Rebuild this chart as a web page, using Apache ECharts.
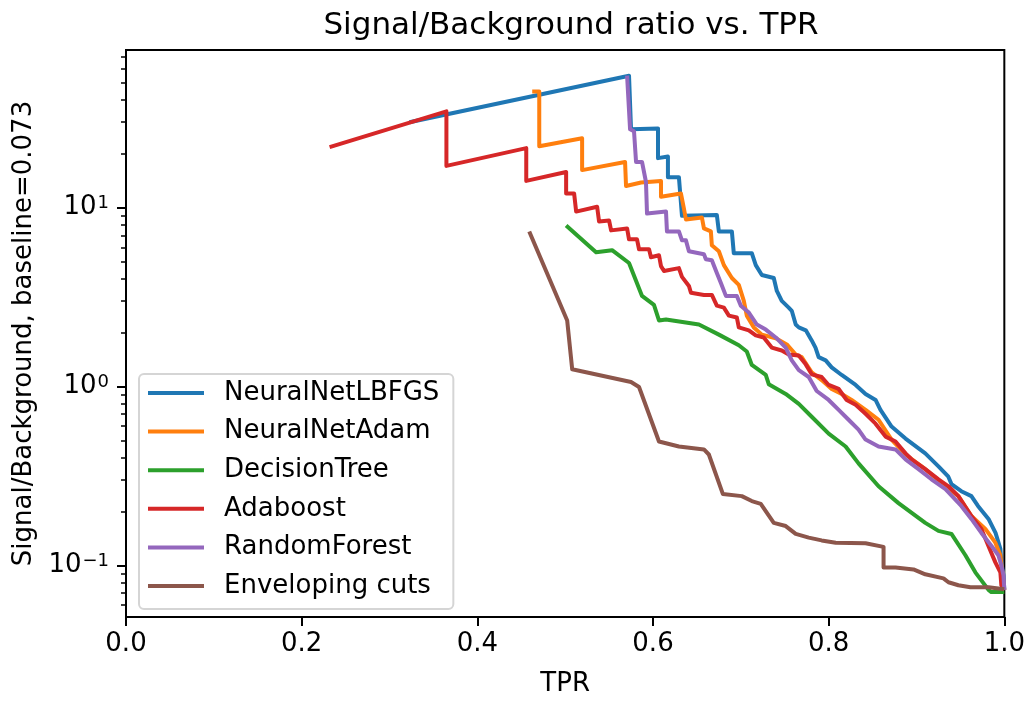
<!DOCTYPE html>
<html>
<head>
<meta charset="utf-8">
<script src="https://cdn.jsdelivr.net/npm/echarts@6/dist/echarts.min.js"></script>
<style>
html,body{margin:0;padding:0;background:#fff;}
#chart{width:1028px;height:702px;}
</style>
</head>
<body>
<div id="chart"></div>
<script>
// ---- data: [TPR, Signal/Background] ----
const seriesNames = ['NeuralNetLBFGS', 'NeuralNetAdam', 'DecisionTree', 'Adaboost', 'RandomForest', 'Enveloping cuts'];
const seriesColors = ['#1f77b4', '#ff7f0e', '#2ca02c', '#d62728', '#9467bd', '#8c564b'];

const neuralNetLBFGS = [
  [0.3227,30.0],[0.5727,54.6],[0.5750,27.4],[0.6057,27.7],[0.6057,18.9],[0.6170,19.3],
  [0.6170,14.8],[0.6295,14.8],[0.6330,9.0],[0.6727,9.1],[0.6750,7.36],[0.6898,7.36],
  [0.6920,5.56],[0.7125,5.56],[0.7170,4.77],[0.7239,4.20],[0.7375,4.04],[0.7410,3.42],
  [0.7466,3.01],[0.7545,2.76],[0.7580,2.65],[0.7625,2.22],[0.7660,2.14],[0.7740,2.06],
  [0.7807,1.81],[0.7850,1.65],[0.7886,1.46],[0.7966,1.40],[0.8034,1.28],[0.8148,1.16],
  [0.8307,1.02],[0.8420,0.909],[0.8534,0.841],[0.8590,0.741],[0.8716,0.597],[0.8875,0.512],
  [0.9100,0.423],[0.9250,0.358],[0.9360,0.315],[0.9398,0.285],[0.9510,0.260],[0.9625,0.244],
  [0.9700,0.215],[0.9820,0.182],[0.9900,0.152],[0.9955,0.124],[0.9966,0.104],[0.9990,0.088],
  [1.0,0.073]
];
const neuralNetAdam = [
  [0.4625,44.5],[0.4705,44.5],[0.4705,22.0],[0.5193,24.4],[0.5193,16.2],[0.5682,18.0],
  [0.5693,13.2],[0.5864,13.8],[0.6091,14.1],[0.6091,11.5],[0.6318,12.0],[0.6352,9.87],
  [0.6375,8.58],[0.6557,8.80],[0.6580,7.65],[0.6659,7.36],[0.6670,6.16],[0.6750,5.70],
  [0.6807,4.77],[0.6898,4.04],[0.6977,3.70],[0.7034,3.01],[0.7068,2.49],[0.7148,2.14],
  [0.7239,1.95],[0.7398,1.86],[0.7523,1.72],[0.7625,1.51],[0.7693,1.46],[0.7807,1.20],
  [0.7920,1.086],[0.8034,0.969],[0.8148,0.909],[0.8261,0.841],[0.8420,0.741],[0.8568,0.652],
  [0.8716,0.505],[0.8875,0.417],[0.9100,0.345],[0.9330,0.277],[0.9477,0.244],[0.9625,0.189],
  [0.9784,0.160],[0.9898,0.134],[0.9955,0.114],[0.9977,0.0915],[1.0,0.073]
];
const decisionTree = [
  [0.5011,7.95],[0.5352,5.63],[0.5534,5.78],[0.5727,4.90],[0.5875,3.21],[0.6011,2.86],
  [0.6068,2.34],[0.6148,2.37],[0.6523,2.22],[0.6750,1.95],[0.6977,1.70],[0.7068,1.57],
  [0.7125,1.32],[0.7284,1.16],[0.7318,1.03],[0.7511,0.909],[0.7660,0.800],[0.7807,0.678],
  [0.8000,0.545],[0.8193,0.462],[0.8340,0.372],[0.8568,0.277],[0.8795,0.223],[0.9100,0.173],
  [0.9250,0.156],[0.9398,0.150],[0.9557,0.114],[0.9670,0.0915],[0.9820,0.073],[0.9852,0.071],
  [1.0,0.071]
];
const adaboost = [
  [0.2318,21.8],[0.3648,34.5],[0.3648,17.1],[0.4557,21.5],[0.4557,14.1],[0.5011,15.8],
  [0.5011,12.0],[0.5102,12.0],[0.5125,9.50],[0.5364,10.1],[0.5386,8.36],[0.5500,8.47],
  [0.5523,7.46],[0.5705,7.65],[0.5727,6.65],[0.5818,6.65],[0.5841,5.85],[0.5955,5.85],
  [0.5977,5.28],[0.6068,5.42],[0.6091,4.71],[0.6125,4.42],[0.6295,4.59],[0.6330,4.10],
  [0.6409,3.65],[0.6432,3.34],[0.6580,3.25],[0.6670,3.25],[0.6727,2.83],[0.6807,2.76],
  [0.6864,2.49],[0.6955,2.43],[0.6977,2.14],[0.7091,2.06],[0.7170,1.93],[0.7261,1.88],
  [0.7352,1.65],[0.7466,1.59],[0.7545,1.51],[0.7659,1.49],[0.7739,1.33],[0.7807,1.17],
  [0.7920,1.13],[0.8000,1.02],[0.8114,0.969],[0.8205,0.841],[0.8307,0.790],[0.8420,0.704],
  [0.8534,0.620],[0.8648,0.525],[0.8761,0.493],[0.8875,0.423],[0.8943,0.392],[0.9100,0.345],
  [0.9250,0.303],[0.9364,0.277],[0.9477,0.244],[0.9625,0.189],[0.9739,0.160],[0.9818,0.129],
  [0.9898,0.104],[0.9955,0.0915],[0.9966,0.0775],[1.0,0.073]
];
const randomForest = [
  [0.5705,54.6],[0.5739,27.4],[0.5784,26.7],[0.5807,18.0],[0.5875,18.0],[0.5920,13.9],
  [0.5932,9.26],[0.6148,9.50],[0.6159,7.36],[0.6295,7.36],[0.6330,6.56],[0.6375,6.56],
  [0.6409,5.70],[0.6580,5.49],[0.6602,5.15],[0.6670,5.08],[0.6727,4.31],[0.6773,3.79],
  [0.6830,3.21],[0.6955,3.21],[0.7000,2.83],[0.7091,2.59],[0.7182,2.22],[0.7284,2.08],
  [0.7398,1.88],[0.7511,1.65],[0.7580,1.40],[0.7660,1.234],[0.7773,1.13],[0.7864,0.944],
  [0.8000,0.841],[0.8114,0.741],[0.8227,0.652],[0.8340,0.574],[0.8420,0.505],[0.8568,0.462],
  [0.8761,0.445],[0.8875,0.392],[0.9023,0.345],[0.9170,0.303],[0.9330,0.267],[0.9510,0.215],
  [0.9625,0.182],[0.9739,0.152],[0.9852,0.129],[0.9932,0.114],[0.9966,0.100],[0.9990,0.088],
  [1.0,0.073]
];
const envelopingCuts = [
  [0.4591,7.36],[0.5023,2.34],[0.5080,1.25],[0.5750,1.06],[0.5841,0.994],[0.6068,0.493],
  [0.6295,0.462],[0.6580,0.445],[0.6636,0.417],[0.6795,0.251],[0.7011,0.244],[0.7125,0.229],
  [0.7227,0.221],[0.7375,0.173],[0.7511,0.166],[0.7625,0.150],[0.7773,0.143],[0.7920,0.138],
  [0.8080,0.134],[0.8420,0.133],[0.8625,0.127],[0.8625,0.0975],[0.8761,0.0975],[0.8966,0.095],
  [0.9100,0.0892],[0.9307,0.0847],[0.9364,0.0805],[0.9477,0.0775],[0.9614,0.0755],[0.9820,0.0755],
  [1.0,0.0736]
];
const allData = [neuralNetLBFGS, neuralNetAdam, decisionTree, adaboost, randomForest, envelopingCuts];

const xTicks = [0, 0.2, 0.4, 0.6, 0.8, 1.0];
const yMajorTicks = [0.1, 1, 10];
const yMinorTicks = [0.06,0.07,0.08,0.09,0.2,0.3,0.4,0.5,0.6,0.7,0.8,0.9,2,3,4,5,6,7,8,9,20,30,40,50,60,70];
const yMin = 0.0515, yMax = 76;

const FONT = 'DejaVu Sans';
const chart = echarts.init(document.getElementById('chart'), null, {renderer: 'canvas'});

const option = {
  animation: false,
  backgroundColor: '#ffffff',
  title: {
    text: 'Signal/Background ratio vs. TPR',
    left: 566, top: 5, textAlign: 'center',
    textStyle: {fontFamily: FONT, fontSize: 31, fontWeight: 'normal', color: '#000'}
  },
  grid: {left: 126, right: 22, top: 50, bottom: 80, show: true, borderColor: '#000', borderWidth: 2, backgroundColor: 'transparent'},
  legend: {
    orient: 'vertical', left: 139, top: 374,
    data: seriesNames,
    icon: 'rect',
    itemWidth: 56, itemHeight: 4, itemGap: 12.6,
    padding: [6, 14, 10, 9],
    backgroundColor: '#fff', borderColor: '#d5d5d5', borderWidth: 2, borderRadius: 5,
    textStyle: {fontFamily: FONT, fontSize: 26, color: '#000', lineHeight: 26, padding: [0, 0, 0, 15]}
  },
  xAxis: {
    type: 'value', min: 0, max: 1, interval: 0.2,
    name: 'TPR', nameLocation: 'middle', nameGap: 54,
    nameTextStyle: {fontFamily: FONT, fontSize: 26, color: '#000'},
    axisLine: {show: true, lineStyle: {color: '#000', width: 2}},
    axisTick: {show: true, inside: false, length: 9, lineStyle: {color: '#000', width: 2}},
    axisLabel: {fontFamily: FONT, fontSize: 26, color: '#000', margin: 14,
      formatter: v => (Math.round(v * 10) / 10).toFixed(1)},
    splitLine: {show: false}
  },
  yAxis: [
    {
      type: 'log', min: yMin, max: yMax, position: 'left',
      name: 'Signal/Background, baseline=0.073', nameLocation: 'middle', nameGap: 88, nameRotate: 90,
      nameTextStyle: {fontFamily: FONT, fontSize: 26, color: '#000'},
      axisLine: {show: true, lineStyle: {color: '#000', width: 2}},
      axisTick: {show: true, inside: false, length: 9, lineStyle: {color: '#000', width: 2}, customValues: yMajorTicks},
      axisLabel: {
        customValues: yMajorTicks, margin: 17, color: '#000',
        formatter: v => {
          const n = Math.round(Math.log10(v));
          return '{b|10}{s|' + (n < 0 ? '\u2212' + (-n) : String(n)) + '}';
        },
        rich: {
          b: {fontFamily: FONT, fontSize: 26, color: '#000', lineHeight: 26, verticalAlign: 'bottom'},
          s: {fontFamily: FONT, fontSize: 18, color: '#000', lineHeight: 18, verticalAlign: 'top', padding: [0, 0, 0, 1]}
        }
      },
      splitLine: {show: false}
    },
    {
      type: 'log', min: yMin, max: yMax, position: 'left',
      axisLine: {show: false},
      axisTick: {show: true, inside: false, length: 5, lineStyle: {color: '#000', width: 1.5}, customValues: yMinorTicks},
      axisLabel: {show: false},
      splitLine: {show: false}
    }
  ],
  series: seriesNames.map((name, i) => ({
    name: name,
    type: 'line',
    yAxisIndex: 0,
    data: allData[i],
    symbol: 'none',
    showSymbol: false,
    lineStyle: {color: seriesColors[i], width: 4, join: 'round'},
    itemStyle: {color: seriesColors[i]},
    emphasis: {disabled: true}
  }))
};
chart.setOption(option);
</script>
</body>
</html>
